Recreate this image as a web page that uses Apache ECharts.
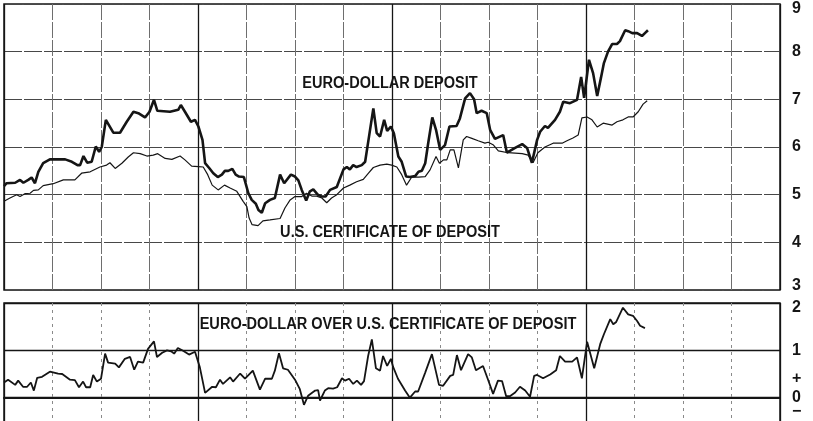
<!DOCTYPE html>
<html>
<head>
<meta charset="utf-8">
<script src="https://cdn.jsdelivr.net/npm/echarts@6/dist/echarts.min.js"></script>
<style>
html,body{margin:0;padding:0;background:#fff;}
#chart{width:813px;height:421px;}
</style>
</head>
<body>
<div id="chart"></div>
<script>
// time axis in weeks (16 quarters = 208 weeks shown)
const euroWeeks = [0,0.7,3.0,4.3,5.2,6.5,7.4,8.3,9.2,10.5,
12.3,16.4,18.2,19.7,20.4,21.3,22.3,23.5,24.6,25.5,
26.2,27.3,29.3,31.1,32.9,34.7,36.0,37.8,39.0,40.2,
41.1,44.5,46.7,47.4,48.5,50.1,51.2,52.1,53.2,53.9,
55.0,56.1,57.3,58.4,59.2,60.1,61.2,62.1,63.0,64.3,
65.5,66.4,67.5,68.2,69.1,70.0,71.3,72.6,74.0,75.1,
76.9,78.0,78.9,79.8,81.0,82.0,82.9,84.1,85.2,86.2,
87.4,89.2,91.0,91.9,92.7,93.6,94.5,95.9,96.8,97.9,
99.0,99.9,100.8,101.9,102.7,103.7,104.5,105.7,106.6,107.8,
108.8,110.2,111.1,112.0,112.9,113.7,114.8,115.8,116.9,118.2,
119.4,121.3,122.2,123.6,124.9,126.0,126.7,128.0,129.4,130.3,
131.6,133.8,134.8,137.0,138.9,140.2,141.5,142.9,143.7,145.0,
145.8,147.7,149.0,149.9,151.7,153.6,154.7,155.5,156.8,157.9,
159.0,160.0,160.8,161.9,163.0,164.3,165.1,166.5,167.3,168.4,
169.7,170.2,171.0,171.8,172.6];
const euroRates = [5.18,5.24,5.25,5.31,5.25,5.31,5.36,5.24,5.48,5.66,
5.74,5.74,5.69,5.62,5.62,5.81,5.67,5.69,6.01,5.90,
6.00,6.57,6.30,6.30,6.53,6.74,6.71,6.62,6.74,6.99,
6.76,6.74,6.78,6.88,6.74,6.53,6.57,6.43,6.15,5.66,
5.56,5.45,5.37,5.42,5.50,5.50,5.54,5.42,5.38,5.37,
5.03,4.89,4.81,4.68,4.62,4.82,4.89,4.93,5.42,5.24,
5.42,5.38,5.30,5.10,4.88,5.07,5.11,5.00,4.96,4.96,
5.10,5.16,5.53,5.58,5.53,5.62,5.58,5.62,5.69,6.25,
6.81,6.29,6.22,6.57,6.34,6.43,6.29,5.80,5.69,5.38,
5.37,5.39,5.48,5.50,5.66,6.08,6.62,6.36,5.94,6.04,
6.43,6.44,6.60,7.02,7.13,7.00,6.71,6.76,6.71,6.36,
6.17,6.25,5.88,5.98,6.06,5.98,5.67,6.15,6.32,6.44,
6.40,6.57,6.74,6.95,6.92,6.99,7.47,7.03,7.83,7.55,
7.07,7.45,7.76,8.00,8.16,8.16,8.22,8.45,8.43,8.39,
8.39,8.43,8.33,8.39,8.45];

const cdWeeks = [0,1.6,3.4,4.3,5.6,7.0,7.9,9.2,10.5,13.2,
15.9,19.0,19.5,20.8,23.1,25.7,27.5,28.4,29.8,31.6,
33.3,34.7,36.5,38.3,40.0,41.2,43.2,45.0,47.2,48.5,
50.3,52.1,53.4,54.6,55.8,57.4,59.1,60.6,62.4,64.1,
65.1,65.7,66.5,68.1,69.4,71.3,74.0,75.3,76.7,78.0,
79.8,81.1,82.5,83.8,85.2,86.5,87.8,89.2,91.0,92.7,
94.5,96.3,97.7,99.0,100.8,102.6,103.9,105.3,106.6,107.9,
109.3,111.1,112.9,114.2,115.8,116.7,117.8,118.7,119.6,120.6,
121.8,123.1,124.0,125.4,127.1,128.9,129.8,131.2,132.5,135.1,
138.9,140.5,141.8,143.1,145.0,147.2,149.6,150.9,152.5,153.9,
154.9,156.3,157.6,159.0,160.6,163.0,164.3,165.9,167.3,168.6,
170.0,171.3,172.4];
const cdRates = [4.86,4.93,5.00,4.96,5.02,5.03,5.09,5.10,5.19,5.23,
5.31,5.31,5.27,5.45,5.48,5.58,5.62,5.67,5.55,5.66,
5.79,5.88,5.86,5.81,5.83,5.86,5.76,5.74,5.81,5.73,
5.60,5.59,5.58,5.42,5.20,5.10,5.20,5.14,5.07,4.86,
4.75,4.51,4.37,4.35,4.45,4.47,4.50,4.72,4.89,4.96,
4.96,5.03,4.97,4.97,4.93,4.83,4.93,5.00,5.14,5.20,
5.27,5.32,5.45,5.57,5.62,5.64,5.62,5.58,5.42,5.20,
5.37,5.37,5.38,5.52,5.80,5.66,5.73,5.73,5.94,5.94,
5.56,6.15,6.22,6.18,6.13,6.08,6.10,6.04,5.92,5.88,
5.86,5.83,5.67,5.88,6.00,6.08,6.08,6.13,6.19,6.25,
6.61,6.63,6.57,6.42,6.50,6.46,6.53,6.57,6.63,6.63,
6.74,6.90,6.97];

const spreadWeeks = [0,1.1,3.0,3.8,5.1,6.2,7.2,8.0,8.9,10.2,
12.3,14.5,15.6,17.7,19.0,20.1,21.2,22.0,23.1,23.9,
24.9,26.0,27.1,27.9,29.8,30.8,32.4,33.8,34.9,35.9,
37.3,37.8,38.6,40.2,41.0,42.4,43.7,44.8,45.6,46.6,
48.0,49.6,51.2,52.5,53.9,55.8,56.8,57.9,58.7,60.6,
61.4,63.3,64.6,66.7,68.6,70.0,71.8,72.6,73.7,74.8,
76.1,78.0,79.3,80.4,81.5,83.4,84.2,84.7,86.0,86.9,
88.2,89.3,90.6,91.4,92.5,93.6,94.6,95.7,96.5,97.6,
98.6,99.7,100.8,101.6,102.7,103.7,104.3,105.6,107.5,108.8,
110.2,111.0,112.9,114.7,116.6,117.7,119.6,120.4,121.4,122.5,
124.4,125.4,126.5,128.4,129.7,131.1,132.4,133.5,134.6,135.6,
137.0,138.3,139.7,141.0,142.1,142.9,144.5,146.4,148.0,149.0,
150.4,152.3,153.6,154.9,156.3,158.2,159.8,160.8,162.5,163.3,
164.1,165.9,167.3,168.6,169.7,170.5,171.8];
const spreadValues = [0.32,0.38,0.27,0.36,0.23,0.23,0.32,0.15,0.42,0.44,
0.55,0.51,0.50,0.38,0.37,0.22,0.34,0.22,0.22,0.48,
0.34,0.40,0.93,0.74,0.72,0.64,0.82,0.86,0.59,0.76,
0.74,0.78,1.03,1.19,0.86,0.95,1.00,0.98,0.93,1.05,
0.99,0.91,0.97,0.64,0.10,0.23,0.22,0.38,0.29,0.43,
0.34,0.51,0.40,0.57,0.17,0.40,0.40,0.57,0.94,0.62,
0.59,0.38,0.18,-0.15,0.04,0.15,0.16,-0.06,0.15,0.20,
0.19,0.22,0.41,0.36,0.40,0.29,0.36,0.27,0.35,0.88,
1.23,0.62,0.57,0.88,0.67,0.82,0.65,0.40,0.15,0.00,
0.13,0.13,0.53,0.92,0.27,0.25,0.46,0.48,0.90,0.58,
0.92,0.85,0.58,0.67,0.39,0.08,0.36,0.35,0.03,0.03,
0.11,0.23,0.15,0.02,0.46,0.48,0.41,0.49,0.58,0.88,
0.76,0.76,0.85,0.41,1.18,0.62,1.13,1.34,1.66,1.55,
1.60,1.90,1.76,1.73,1.62,1.52,1.47];

// right-hand tick labels (value*10 -> text)
const topTickLabels = {89:'9',80:'8',70:'7',60:'6',50:'5',40:'4',31:'3'};
const bottomTickLabels = {19:'2',10:'1',4:'+',0:'0',[-3]:'\u2212'};

const titles = ['EURO-DOLLAR DEPOSIT','U.S. CERTIFICATE OF DEPOSIT','EURO-DOLLAR OVER U.S. CERTIFICATE OF DEPOSIT'];

const pair = (xs, ys) => xs.map((x, i) => [x, ys[i]]);
const FONT = '"Liberation Sans", Arial, sans-serif';
const INK = '#151515';

const chart = echarts.init(document.getElementById('chart'), null, {renderer: 'canvas'});

function xMinor(gridIndex, color, dash) {
  return {type:'value', gridIndex, min:0, max:208, interval:13,
    axisLine:{show:false}, axisTick:{show:false}, axisLabel:{show:false},
    splitLine:{show:true, lineStyle:{color, width:1, type:dash}}};
}
function xMajor(gridIndex) {
  return {type:'value', gridIndex, min:0, max:208, interval:52,
    axisLine:{show:false}, axisTick:{show:false}, axisLabel:{show:false},
    splitLine:{show:true, lineStyle:{color:INK, width:1.3, type:'solid'}}};
}
function labelFormatter(map) {
  return v => { const k = Math.round(v * 10); return map[k] !== undefined ? map[k] : ''; };
}
function titleText(text, x, y) {
  return {type:'text', x, y, z:10, scaleX:0.91,
    style:{text, fill:INK, font:'bold 16px ' + FONT, align:'center', verticalAlign:'middle'}};
}

chart.setOption({
  animation:false,
  backgroundColor:'#ffffff',
  grid:[
    {left:4, right:33, top:4, height:286, show:true, borderColor:INK, borderWidth:1.5, outerBoundsMode:'none', containLabel:false},
    {left:4, right:33, top:303, height:142, show:true, borderColor:INK, borderWidth:1.5, outerBoundsMode:'none', containLabel:false}
  ],
  xAxis:[
    xMinor(0, '#6e6e6e', [16,2]),
    xMajor(0),
    Object.assign(xMinor(1, '#8a8a8a', [3,4]), {axisLine:{show:true, onZero:true, lineStyle:{color:INK, width:2.2}}}),
    xMajor(1)
  ],
  yAxis:[
    {type:'value', gridIndex:0, min:3, max:9, interval:1, position:'right',
      axisLine:{show:false}, axisTick:{show:false}, axisLabel:{show:false},
      splitLine:{show:true, lineStyle:{color:'#474747', width:1, type:[18,2]}}},
    {type:'value', gridIndex:0, min:3, max:9, interval:0.1, position:'right',
      axisLine:{show:false}, axisTick:{show:false}, splitLine:{show:false},
      axisLabel:{show:true, margin:12, color:INK, fontFamily:FONT, fontWeight:'bold', fontSize:16,
        formatter:labelFormatter(topTickLabels)}},
    {type:'value', gridIndex:1, min:-1, max:2, interval:1, position:'right',
      axisLine:{show:false}, axisTick:{show:false}, axisLabel:{show:false},
      splitLine:{show:true, lineStyle:{color:INK, width:1.4, type:'solid'}}},
    {type:'value', gridIndex:1, min:-1, max:2, interval:0.1, position:'right',
      axisLine:{show:false}, axisTick:{show:false}, splitLine:{show:false},
      axisLabel:{show:true, margin:12, color:INK, fontFamily:FONT, fontWeight:'bold', fontSize:16,
        formatter:labelFormatter(bottomTickLabels)}}
  ],
  series:[
    {name:'Euro-dollar deposit', type:'line', xAxisIndex:0, yAxisIndex:0,
      data:pair(euroWeeks, euroRates), symbol:'none', lineStyle:{color:INK, width:2.6}, z:5},
    {name:'U.S. certificate of deposit', type:'line', xAxisIndex:0, yAxisIndex:0,
      data:pair(cdWeeks, cdRates), symbol:'none', lineStyle:{color:INK, width:1.2}, z:4},
    {name:'Spread', type:'line', xAxisIndex:2, yAxisIndex:2,
      data:pair(spreadWeeks, spreadValues), symbol:'none', lineStyle:{color:INK, width:1.8}, z:5}
  ],
  graphic:[
    titleText(titles[0], 390, 84),
    titleText(titles[1], 390, 233),
    titleText(titles[2], 388, 325)
  ]
});
</script>
</body>
</html>
